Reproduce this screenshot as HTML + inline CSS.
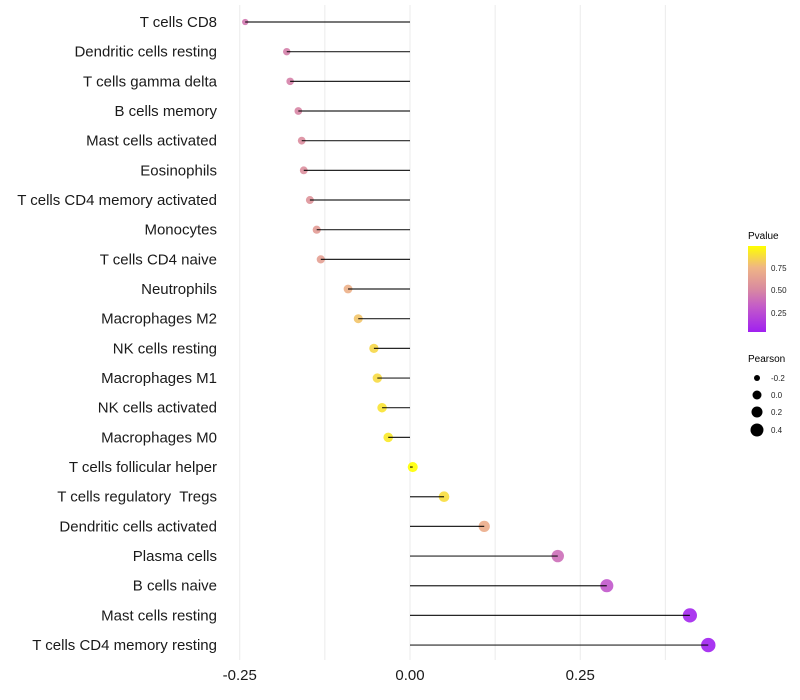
<!DOCTYPE html>
<html><head><meta charset="utf-8"><style>
body{margin:0;background:#fff;}
svg{display:block;font-family:"Liberation Sans",sans-serif;}
text{white-space:pre;}
</style></head><body>
<svg id="chart" width="800" height="700" viewBox="0 0 800 700">
<defs>
<linearGradient id="pg" x1="0" y1="1" x2="0" y2="0">
<stop offset="0" stop-color="#a020f0"/>
<stop offset="0.3" stop-color="#c45cc8"/>
<stop offset="0.5" stop-color="#d98aa0"/>
<stop offset="0.75" stop-color="#efb585"/>
<stop offset="1" stop-color="#ffff00"/>
</linearGradient>
</defs>
<g id="grid"></g>
<g id="marks"></g>
<g id="labels"></g>
<g id="xticks"></g>
<g>
<text x="748" y="239" font-size="10" fill="#000">Pvalue</text>
<rect x="748" y="246" width="18" height="86" fill="url(#pg)"/>
<text x="771" y="271" font-size="8" fill="#222">0.75</text>
<text x="771" y="293" font-size="8" fill="#222">0.50</text>
<text x="771" y="316" font-size="8" fill="#222">0.25</text>
</g>
<g>
<text x="748" y="362" font-size="10" fill="#000">Pearson</text>
<circle cx="757" cy="378" r="3" fill="#000"/><text x="771" y="381" font-size="8" fill="#222">-0.2</text>
<circle cx="757" cy="395" r="4.5" fill="#000"/><text x="771" y="398" font-size="8" fill="#222">0.0</text>
<circle cx="757" cy="412" r="5.5" fill="#000"/><text x="771" y="415" font-size="8" fill="#222">0.2</text>
<circle cx="757" cy="430" r="6.5" fill="#000"/><text x="771" y="433" font-size="8" fill="#222">0.4</text>
</g>
</svg>
<script>
const categories=["T cells CD8","Dendritic cells resting","T cells gamma delta","B cells memory","Mast cells activated","Eosinophils","T cells CD4 memory activated","Monocytes","T cells CD4 naive","Neutrophils","Macrophages M2","NK cells resting","Macrophages M1","NK cells activated","Macrophages M0","T cells follicular helper","T cells regulatory  Tregs","Dendritic cells activated","Plasma cells","B cells naive","Mast cells resting","T cells CD4 memory resting"];
const pearson=[-0.242,-0.181,-0.176,-0.164,-0.159,-0.156,-0.147,-0.137,-0.131,-0.091,-0.076,-0.053,-0.048,-0.041,-0.032,0.004,0.050,0.109,0.217,0.289,0.411,0.438];
const pvalue=[0.42,0.45,0.46,0.48,0.52,0.53,0.56,0.6,0.63,0.72,0.8,0.86,0.87,0.9,0.92,0.99,0.88,0.7,0.38,0.28,0.06,0.04];
const xTicks=[-0.25,0,0.25];
const xTickLabels=["-0.25","0.00","0.25"];
const gridVals=[-0.25,-0.125,0,0.125,0.25,0.375];
const NS="http://www.w3.org/2000/svg";
const xs=v=>410+v*681;
const ys=i=>22+i*29.67;
const stops=[[0.04,[160,32,240]],[0.3,[196,92,200]],[0.5,[217,138,160]],[0.75,[239,181,133]],[0.99,[255,255,0]]];
function col(p){p=Math.max(0.04,Math.min(0.99,p));for(let k=0;k<stops.length-1;k++){const a=stops[k],b=stops[k+1];if(p<=b[0]){const t=(p-a[0])/(b[0]-a[0]);const c=a[1].map((v,j)=>Math.round(v+(b[1][j]-v)*t));return `rgb(${c})`;}}return "rgb(255,255,0)";}
const rs=v=>Math.sqrt(Math.max(2.25,25+62*v));
function mk(tag,attrs,parent){const e=document.createElementNS(NS,tag);for(const k in attrs)e.setAttribute(k,attrs[k]);parent.appendChild(e);return e;}
const grid=document.getElementById('grid'),marks=document.getElementById('marks'),labels=document.getElementById('labels'),xt=document.getElementById('xticks');
gridVals.forEach(v=>{const l=mk('line',{x1:xs(v),x2:xs(v),y1:5,y2:660,stroke:'#ebebeb','stroke-width':1},grid);

});
categories.forEach((c,i)=>{
const y=ys(i);
const t=mk('text',{x:217,y:y+5,'text-anchor':'end','font-size':15,fill:'#1a1a1a'},labels);t.textContent=c;


const pt=mk('circle',{cx:xs(pearson[i]),cy:y,r:rs(pearson[i]),fill:col(pvalue[i]),'fill-opacity':0.9},marks);


const s=mk('line',{x1:xs(0),x2:xs(pearson[i]),y1:y,y2:y,stroke:'#000','stroke-width':1.2,'stroke-opacity':0.85},marks);


});
xTicks.forEach((v,i)=>{const t=mk('text',{x:xs(v),y:680,'text-anchor':'middle','font-size':15,fill:'#1a1a1a'},xt);t.textContent=xTickLabels[i];

});
</script>
</body></html>
